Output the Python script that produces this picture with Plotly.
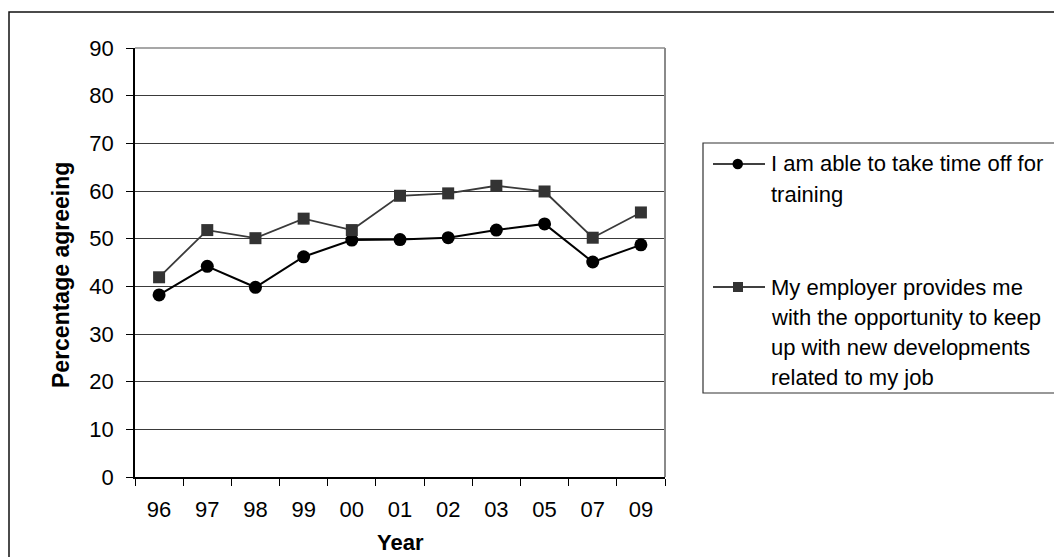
"""
Training / development survey chart: percentage agreeing by year
"""

import plotly.graph_objects as go

# data
years = ["96", "97", "98", "99", "00", "01", "02", "03", "05", "07", "09"]
time_off = [38.2, 44.2, 39.8, 46.2, 49.7, 49.8, 50.2, 51.8, 53.1, 45.1, 48.7]
keep_up = [41.9, 51.8, 50.1, 54.2, 51.8, 59.0, 59.5, 61.1, 59.9, 50.2, 55.5]

name_time_off = "I am able to take time off for training"
name_keep_up = ("My employer provides me with the opportunity to keep "
                "up with new developments related to my job")
legend_lines_1 = ["I am able to take time off for", "training"]
legend_lines_2 = ["My employer provides me", "with the opportunity to keep",
                  "up with new developments", "related to my job"]

y_ticks = list(range(0, 91, 10))

W, H = 1054, 557
L, R, T, B = 135, 665, 48, 477   # plot area in pixels

FONT = "Arial, 'Liberation Sans', sans-serif"


def px(x):
    """pixel x -> paper x"""
    return (x - L) / (R - L)


def py(y):
    """pixel y -> paper y"""
    return (B - y) / (B - T)


fig = go.Figure()

fig.add_trace(go.Scatter(
    x=years, y=time_off, name=name_time_off, mode="lines+markers",
    line=dict(color="black", width=2),
    marker=dict(symbol="circle", size=13, color="black"),
    showlegend=False,
))
fig.add_trace(go.Scatter(
    x=years, y=keep_up, name=name_keep_up, mode="lines+markers",
    line=dict(color="#3a3a3a", width=1.8),
    marker=dict(symbol="square", size=12, color="#333333"),
    showlegend=False,
))

shapes = [
    # outer chart border (runs past the picture edges)
    dict(type="rect", xref="paper", yref="paper",
         x0=px(9), x1=px(1070), y0=py(570), y1=py(12),
         line=dict(color="#111111", width=1.5), layer="below"),
    # top and right edges of the plot area are grey
    dict(type="line", xref="paper", yref="paper",
         x0=1, x1=1, y0=0, y1=1, line=dict(color="#8a8a8a", width=2)),
    dict(type="line", xref="paper", yref="paper",
         x0=0, x1=1, y0=1, y1=1, line=dict(color="#8a8a8a", width=1.5)),
    # legend box
    dict(type="rect", xref="paper", yref="paper",
         x0=px(703), x1=px(1070), y0=py(393), y1=py(143),
         line=dict(color="#333333", width=1.2)),
]

annotations = []

# legend entries
entries = [
    (164, legend_lines_1, "circle", "black"),
    (287, legend_lines_2, "square", "#333333"),
]
for y0, lines, sym, col in entries:
    shapes.append(dict(type="line", xref="paper", yref="paper",
                       x0=px(713), x1=px(765), y0=py(y0), y1=py(y0),
                       line=dict(color="black", width=1.5)))
    if sym == "circle":
        shapes.append(dict(type="circle", xref="paper", yref="paper",
                           x0=px(732.5), x1=px(743), y0=py(y0 + 5.3),
                           y1=py(y0 - 5.3),
                           fillcolor=col, line=dict(color=col, width=0)))
    else:
        shapes.append(dict(type="rect", xref="paper", yref="paper",
                           x0=px(733), x1=px(743), y0=py(y0 + 5), y1=py(y0 - 5),
                           fillcolor=col, line=dict(color=col, width=0)))
    for i, txt in enumerate(lines):
        annotations.append(dict(
            text=txt, xref="paper", yref="paper", x=px(769), y=py(y0 + i * 30),
            xanchor="left", yanchor="middle", showarrow=False,
            font=dict(family=FONT, size=22, color="black"),
        ))

# axis titles
annotations.append(dict(
    text="<b>Percentage agreeing</b>", xref="paper", yref="paper",
    x=px(61), y=py(275), textangle=-90, showarrow=False,
    xanchor="center", yanchor="middle",
    font=dict(family=FONT, size=23, color="black"),
))
annotations.append(dict(
    text="<b>Year</b>", xref="paper", yref="paper",
    x=0.5, y=py(542), showarrow=False, xanchor="center", yanchor="middle",
    font=dict(family=FONT, size=22, color="black"),
))

fig.update_layout(
    width=W, height=H,
    margin=dict(l=L, r=W - R, t=T, b=H - B, pad=0, autoexpand=False),
    paper_bgcolor="white", plot_bgcolor="white",
    font=dict(family=FONT, size=22, color="black"),
    shapes=shapes, annotations=annotations,
    showlegend=False,
)

fig.update_xaxes(
    type="category", categoryorder="array", categoryarray=years,
    range=[-0.5, len(years) - 0.5],
    showgrid=False, showline=True, linecolor="black", linewidth=1.5,
    ticks="outside", tickson="boundaries", ticklen=7, tickcolor="black",
    tickfont=dict(family=FONT, size=22, color="black"),
    ticklabelstandoff=12, zeroline=False,
)
fig.update_yaxes(
    range=[0, 90], tickvals=y_ticks, ticktext=[str(v) for v in y_ticks],
    showgrid=True, gridcolor="#3a3a3a", gridwidth=1,
    showline=True, linecolor="black", linewidth=1.5,
    ticks="outside", ticklen=7, tickcolor="black",
    tickfont=dict(family=FONT, size=22, color="black"),
    ticklabelstandoff=8, zeroline=False,
)

# the page's default body margin would shift the chart by 8px
fig.write_html("out.html", config={"displayModeBar": False},
               post_script="document.body.style.margin = '0';")
